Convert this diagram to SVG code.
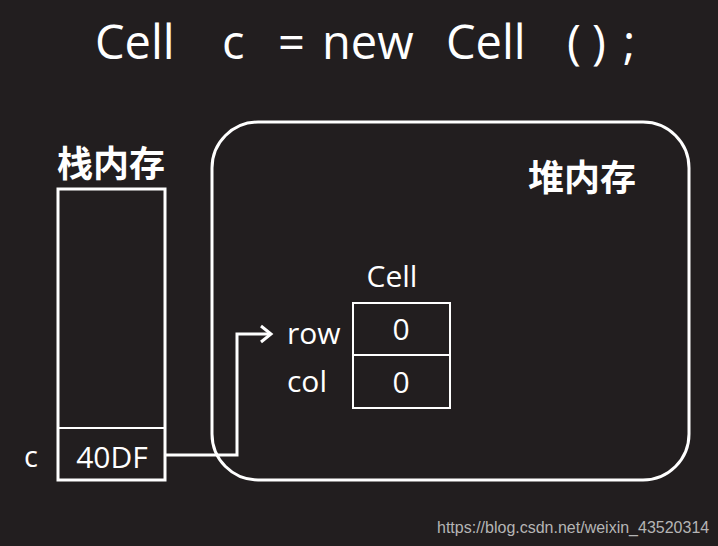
<svg xmlns="http://www.w3.org/2000/svg" width="718" height="546" viewBox="0 0 718 546">
<style>
.t{fill:#ffffff;font-family:"Open Sans","Liberation Sans",sans-serif}
.cjk{fill:#ffffff;font-family:"Noto Sans CJK SC",sans-serif;font-weight:bold}
.box{fill:none;stroke:#ffffff}
.conn{fill:none;stroke:#ffffff;stroke-width:3}
</style>
<rect width="718" height="546" fill="#221e1f"/>
<g id="title">
<text class="t" font-size="47" y="59"><tspan x="95">Cell</tspan><tspan x="222">c</tspan><tspan x="278">=</tspan><tspan x="322">new</tspan><tspan x="446">Cell</tspan><tspan x="567">(</tspan><tspan x="592">)</tspan><tspan x="623">;</tspan></text>
</g>
<g id="stack">
<text class="cjk" font-size="36" x="111" y="177" text-anchor="middle">栈内存</text>
<rect class="box" x="58" y="189" width="107" height="291" stroke-width="3"/>
<line x1="58" y1="428" x2="165" y2="428" stroke="#ffffff" stroke-width="2"/>
<text class="t" font-size="30" x="112" y="468" text-anchor="middle">40DF</text>
<text class="t" font-size="29" x="31" y="467" text-anchor="middle">c</text>
</g>
<g id="heap">
<rect class="box" x="212" y="122" width="477" height="358" rx="46" ry="46" stroke-width="3"/>
<text class="cjk" font-size="36" x="582" y="191" text-anchor="middle">堆内存</text>
</g>
<g id="cell">
<text class="t" font-size="30" x="392" y="287" text-anchor="middle">Cell</text>
<rect class="box" x="353" y="303" width="97" height="105" stroke-width="2"/>
<line x1="353" y1="355" x2="450" y2="355" stroke="#ffffff" stroke-width="2"/>
<text class="t" font-size="30" x="401" y="340" text-anchor="middle">0</text>
<text class="t" font-size="30" x="401" y="393" text-anchor="middle">0</text>
<text class="t" font-size="30" x="287" y="344">row</text>
<text class="t" font-size="30" x="287" y="392">col</text>
</g>
<g id="connectors">
<polyline class="conn" points="166,455 237,455 237,334 270,334"/>
<polyline class="conn" points="261,326 271,334 261,342" stroke-linejoin="miter"/>
</g>
<text x="437" y="533" font-family="Liberation Sans,sans-serif" font-size="16" fill="#b5b5b5">https://blog.csdn.net/weixin_43520314</text>
</svg>
